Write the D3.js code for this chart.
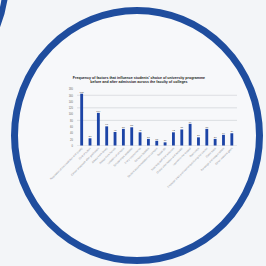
<!DOCTYPE html>
<html>
<head>
<meta charset="utf-8">
<script src="https://cdn.jsdelivr.net/npm/d3@7"></script>
<style>
  html, body { margin: 0; padding: 0; background: #f3f5f8; }
  svg { display: block; }
</style>
</head>
<body>
<script>
var w = 266, h = 266;

// chart data
var categories = [
  "Reputation of the institution and quality",
  "Cost of tuition",
  "Career prospects after graduation",
  "Advice from family",
  "Advice from friends",
  "Location of campus",
  "Scholarships available",
  "Entry requirements",
  "Campus facilities",
  "Student accommodation on campus",
  "Social life",
  "Teaching staff and lecturers",
  "Online information and website",
  "Interest in the subject",
  "Open days",
  "Employer links and internships during the course",
  "Class sizes",
  "Rankings and league tables",
  "Other reasons given"
];
var values = [165, 23, 104, 61, 43, 53, 58, 42, 21, 15, 10, 42, 51, 69, 26, 53, 21, 34, 39];
var yTicks = [0, 20, 40, 60, 80, 100, 120, 140, 160, 180];
var gridTicks = [80, 120, 160];
var titleLines = [
  "Frequency of factors that influence students' choice of university programme",
  "before and after admission across the faculty of colleges"
];

var svg = d3.select("body")
            .append("svg")
            .attr("width", w)
            .attr("height", h);

svg.append("rect")
    .attr("width", w)
    .attr("height", h)
    .attr("fill", "#f3f5f8");

// partial ring in the top-left corner
svg.append("circle")
    .attr("cx", -120)
    .attr("cy", -20)
    .attr("r", 126)
    .attr("fill", "none")
    .attr("stroke", "#1f4d9e")
    .attr("stroke-width", 6);

// main ring
svg.append("ellipse")
    .attr("cx", 137)
    .attr("cy", 135.5)
    .attr("rx", 122.5)
    .attr("ry", 125)
    .attr("fill", "#f7f8fa")
    .attr("stroke", "#1f4d9e")
    .attr("stroke-width", 7);

var x = d3.scaleBand()
          .domain(categories)
          .range([77.5, 236])
          .paddingInner(0.66)
          .paddingOuter(0.33);

var y = d3.scaleLinear()
          .domain([0, 180])
          .range([145.5, 89]);

// gridlines
svg.selectAll("line.grid")
    .data(gridTicks)
    .enter()
    .append("line")
    .attr("class", "grid")
    .attr("x1", 77)
    .attr("x2", 237)
    .attr("y1", function(d){ return y(d); })
    .attr("y2", function(d){ return y(d); })
    .attr("stroke", "#c9ccd2")
    .attr("stroke-width", 0.6);

// y axis labels
var yAxis = d3.axisLeft(y)
              .tickValues(yTicks)
              .tickSize(0)
              .tickPadding(3);
var gy = svg.append("g")
            .attr("transform", "translate(76,0)")
            .call(yAxis);
gy.select(".domain").remove();
gy.selectAll("text")
    .attr("font-size", 2.6)
    .attr("font-family", "Liberation Sans, Arial, sans-serif")
    .attr("fill", "#666");

// baseline
svg.append("line")
    .attr("x1", 77)
    .attr("x2", 237)
    .attr("y1", y(0))
    .attr("y2", y(0))
    .attr("stroke", "#d4d6da")
    .attr("stroke-width", 0.5);

// bars
svg.selectAll("rect.bar")
    .data(values)
    .enter()
    .append("rect")
    .attr("class", "bar")
    .attr("x", function(d, i){ return x(categories[i]); })
    .attr("y", function(d){ return y(d); })
    .attr("width", x.bandwidth())
    .attr("height", function(d){ return y(0) - y(d); })
    .attr("fill", "#1c44a6");

// value labels
svg.selectAll("text.val")
    .data(values)
    .enter()
    .append("text")
    .attr("class", "val")
    .attr("x", function(d, i){ return x(categories[i]) + x.bandwidth() / 2; })
    .attr("y", function(d){ return y(d) - 1.2; })
    .attr("text-anchor", "middle")
    .attr("font-size", 2.5)
    .attr("font-family", "Liberation Sans, Arial, sans-serif")
    .attr("fill", "#444")
    .text(function(d){ return d; });

// category labels, rotated
svg.selectAll("text.cat")
    .data(categories)
    .enter()
    .append("text")
    .attr("class", "cat")
    .attr("transform", function(d){
        return "translate(" + (x(d) + x.bandwidth() / 2 + 1) + "," + (y(0) + 3) + ") rotate(-45)";
    })
    .attr("text-anchor", "end")
    .attr("font-size", 2.6)
    .attr("font-family", "Liberation Sans, Arial, sans-serif")
    .attr("fill", "#8a8d93")
    .text(function(d){ return d; });

// title
svg.selectAll("text.title")
    .data(titleLines)
    .enter()
    .append("text")
    .attr("class", "title")
    .attr("x", 139)
    .attr("y", function(d, i){ return 78.5 + i * 4.3; })
    .attr("text-anchor", "middle")
    .attr("font-size", 3.6)
    .attr("font-weight", "bold")
    .attr("font-family", "Liberation Sans, Arial, sans-serif")
    .attr("fill", "#222")
    .text(function(d){ return d; });
</script>
</body>
</html>
